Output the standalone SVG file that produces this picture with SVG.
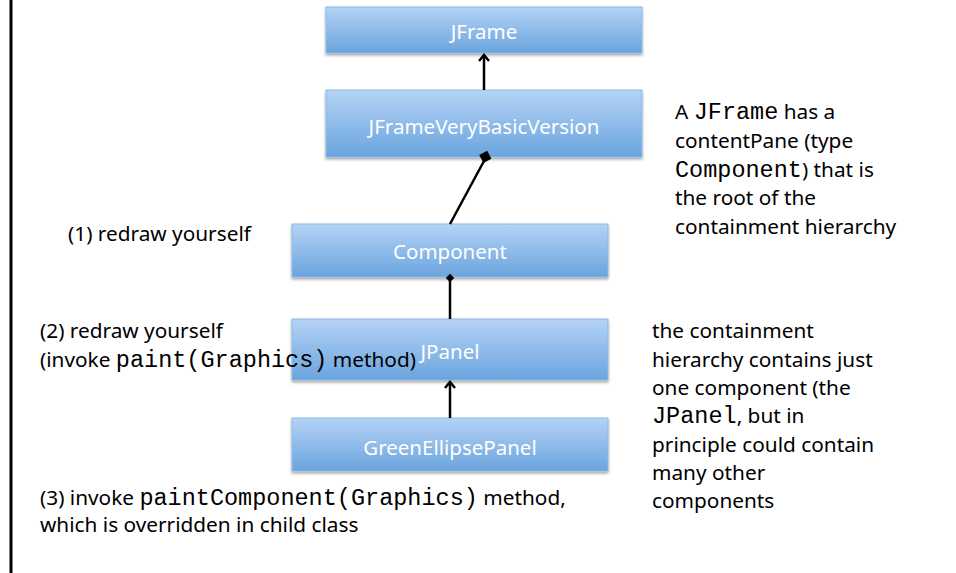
<svg xmlns="http://www.w3.org/2000/svg" width="956" height="573" viewBox="0 0 956 573">
  <defs>
    <linearGradient id="boxFill" x1="0" y1="0" x2="0" y2="1">
      <stop offset="0" stop-color="#b5d3f5"/>
      <stop offset="1" stop-color="#6aa4de"/>
    </linearGradient>
    <filter id="shadow" x="-5%" y="-10%" width="110%" height="140%">
      <feGaussianBlur in="SourceAlpha" stdDeviation="1.5"/>
      <feOffset dx="0" dy="2" result="b"/>
      <feComponentTransfer><feFuncA type="linear" slope="0.35"/></feComponentTransfer>
      <feMerge><feMergeNode/><feMergeNode in="SourceGraphic"/></feMerge>
    </filter>
    <marker id="open" viewBox="0 0 12 12" refX="10" refY="6" markerWidth="12" markerHeight="12" markerUnits="userSpaceOnUse" orient="auto">
      <path d="M4,1 L10,6 L4,11" fill="none" stroke="#000" stroke-width="2.5"/>
    </marker>
  </defs>
  <style>
    .box { fill: url(#boxFill); stroke: #8bb9e8; stroke-width: 1; filter: url(#shadow); }
    .lbl { font-family: "Noto Sans", "Open Sans", sans-serif; font-size: 20.5px; fill: #ffffff; text-anchor: middle; }
    .txt { font-family: "Noto Sans", "Open Sans", sans-serif; font-size: 20.8px; fill: #000000; }
    .mono { font-family: "Liberation Mono", "Courier New", monospace; font-size: 23.5px; font-weight: normal; }
    .edge { stroke: #000; stroke-width: 2.5; fill: none; }
  </style>

  <!-- frame edge on the left -->
  <line x1="11" y1="0" x2="11" y2="573" stroke="#000" stroke-width="3"/>

  <g id="n-jframe">
    <rect class="box" x="326" y="7" width="316" height="46"/>
    <text class="lbl" x="484" y="39">JFrame</text>
  </g>
  <g id="n-jframeverybasicversion">
    <rect class="box" x="326" y="90" width="316" height="67"/>
    <text class="lbl" x="484" y="134">JFrameVeryBasicVersion</text>
  </g>
  <g id="n-component">
    <rect class="box" x="292" y="224" width="316" height="53"/>
    <text class="lbl" x="450" y="259">Component</text>
  </g>
  <g id="n-jpanel">
    <rect class="box" x="292" y="319" width="316" height="61"/>
    <text class="lbl" x="450" y="359">JPanel</text>
  </g>
  <g id="n-greenellipsepanel">
    <rect class="box" x="292" y="418" width="316" height="53"/>
    <text class="lbl" x="450" y="455">GreenEllipsePanel</text>
  </g>

  <g id="connectors">
    <line class="edge" x1="484" y1="90" x2="484" y2="55" marker-end="url(#open)"/>
    <line class="edge" x1="450" y1="224" x2="484" y2="161"/>
    <rect x="481" y="152" width="9" height="9" fill="#000" transform="rotate(-28 486 157)"/>
    <line class="edge" x1="450" y1="319" x2="450" y2="281"/>
    <rect x="447" y="275" width="6" height="6" fill="#000" transform="rotate(45 450 278)"/>
    <line class="edge" x1="450" y1="418" x2="450" y2="382" marker-end="url(#open)"/>
  </g>

  <g id="notes">
    <text class="txt" x="68" y="241">(1) redraw yourself</text>
    <text class="txt" x="40" y="338">(2) redraw yourself</text>
    <text class="txt" x="40" y="367">(invoke <tspan class="mono">paint(Graphics)</tspan> method)</text>
    <text class="txt" x="40" y="505">(3) invoke <tspan class="mono">paintComponent(Graphics)</tspan> method,</text>
    <text class="txt" x="40" y="532">which is overridden in child class</text>

    <text class="txt" x="675" y="119">A <tspan class="mono">JFrame</tspan> has a</text>
    <text class="txt" x="675" y="148">contentPane (type</text>
    <text class="txt" x="675" y="177"><tspan class="mono">Component</tspan>) that is</text>
    <text class="txt" x="675" y="205">the root of the</text>
    <text class="txt" x="675" y="234">containment hierarchy</text>

    <text class="txt" x="652" y="338">the containment</text>
    <text class="txt" x="652" y="367">hierarchy contains just</text>
    <text class="txt" x="652" y="395">one component (the</text>
    <text class="txt" x="652" y="423"><tspan class="mono">JPanel</tspan>, but in</text>
    <text class="txt" x="652" y="452">principle could contain</text>
    <text class="txt" x="652" y="480">many other</text>
    <text class="txt" x="652" y="508">components</text>
  </g>
</svg>
